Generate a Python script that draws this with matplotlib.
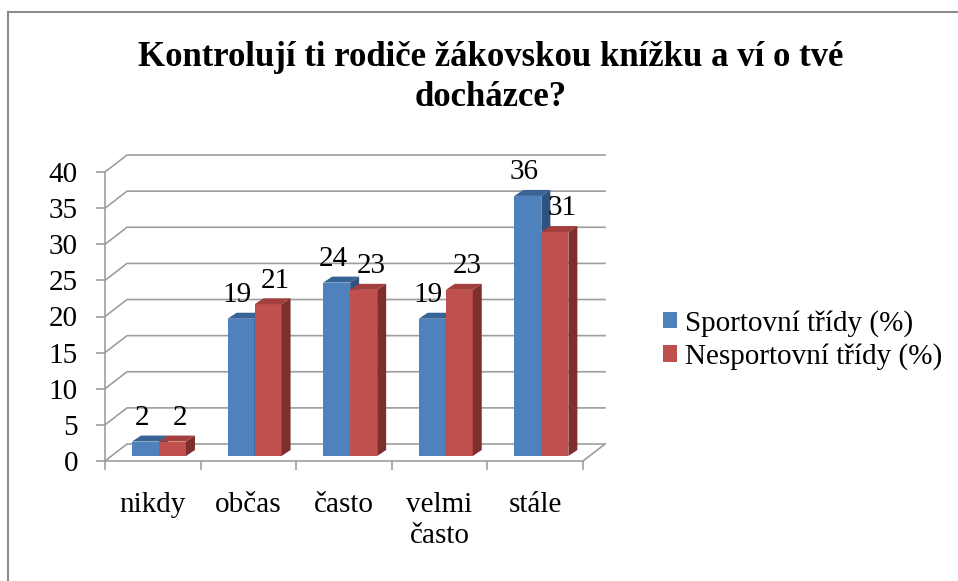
import matplotlib
matplotlib.use("Agg")
import matplotlib.pyplot as plt
from matplotlib.patches import Polygon, Patch
from matplotlib.lines import Line2D

# --- data ---
categories = ["nikdy", "občas", "často", "velmi\nčasto", "stále"]
sportovni = [2, 19, 24, 19, 36]
nesportovni = [2, 21, 23, 23, 31]
series_names = ["Sportovní třídy (%)", "Nesportovní třídy (%)"]
title = "Kontrolují ti rodiče žákovskou knížku a ví o tvé\ndocházce?"
yticks = [0, 5, 10, 15, 20, 25, 30, 35, 40]

# colours (front, top, side)
blue = ("#4F81BD", "#3A6395", "#2F5282")
red = ("#C0504D", "#A33F3C", "#7E2F2D")
grid_col = "#9E9E9E"

FONT = "Liberation Serif"
W, H = 958, 581

fig = plt.figure(figsize=(W / 100, H / 100), dpi=100)
fig.patch.set_facecolor("white")

# plot area (front face) in pixels: x 105..583, y(0)=461, y(40)=172
ax = fig.add_axes([105 / W, (H - 461) / H, 478 / W, 289 / H])
ax.set_xlim(0, 5)
ax.set_ylim(0, 40)
ax.patch.set_visible(False)

# 3D look offsets (data units)
wall_dx, wall_dy = 0.23, 2.35      # back wall
base_dy = 0.69                     # bars sit a bit into the floor
bar_w = 0.2825
depth_dx, depth_dy = 0.094, 0.83   # bar depth
group_start = 0.282
label_gap = 2.3

# walls / gridlines
for v in yticks:
    ax.plot([0, wall_dx, 5 + wall_dx], [v, v + wall_dy, v + wall_dy],
            color=grid_col, lw=1.2, zorder=1, clip_on=False)
ax.plot([5, 5 + wall_dx], [0, wall_dy], color=grid_col, lw=1.2,
        zorder=1, clip_on=False)


def bar3d(x0, h, cols):
    ax.bar(x0, h, width=bar_w, bottom=base_dy, align="edge",
           color=cols[0], zorder=3, clip_on=False)
    x1 = x0 + bar_w
    top = h + base_dy
    ax.add_patch(Polygon([(x0, top), (x1, top), (x1 + depth_dx, top + depth_dy),
                          (x0 + depth_dx, top + depth_dy)],
                         closed=True, facecolor=cols[1], edgecolor="none",
                         zorder=3, clip_on=False))
    ax.add_patch(Polygon([(x1, base_dy), (x1 + depth_dx, base_dy + depth_dy),
                          (x1 + depth_dx, top + depth_dy), (x1, top)],
                         closed=True, facecolor=cols[2], edgecolor="none",
                         zorder=3, clip_on=False))


for i, (s, n) in enumerate(zip(sportovni, nesportovni)):
    xs = i + group_start
    xn = xs + bar_w
    bar3d(xs, s, blue)
    bar3d(xn, n, red)
    ax.text(xs + bar_w / 2 - 0.04, s + base_dy + label_gap, str(s), ha="center",
            va="baseline", fontsize=21, family=FONT, zorder=5)
    ax.text(xn + bar_w / 2 + 0.08, n + base_dy + label_gap, str(n), ha="center",
            va="baseline", fontsize=21, family=FONT, zorder=5)

# axes styling
for side in ("top", "right"):
    ax.spines[side].set_visible(False)
for side in ("left", "bottom"):
    ax.spines[side].set_color(grid_col)
    ax.spines[side].set_linewidth(1.2)
    ax.spines[side].set_zorder(4)

ax.set_yticks(yticks)
ax.set_yticklabels([str(v) for v in yticks], family=FONT, fontsize=21)
ax.tick_params(axis="y", length=6.5, width=1.2, color=grid_col, pad=13)

ax.set_xticks(range(6))
ax.set_xticklabels([])
ax.set_xticks([i + 0.5 for i in range(5)], minor=True)
ax.set_xticklabels(categories, minor=True, family=FONT, fontsize=21,
                   linespacing=1.25)
ax.tick_params(axis="x", which="major", length=6.5, width=1.2, color=grid_col)
ax.tick_params(axis="x", which="minor", length=0, pad=22)

# legend
handles = [Patch(facecolor=blue[0]), Patch(facecolor=red[0])]
fig.legend(handles, series_names, loc="center left",
           bbox_to_anchor=(663 / W, 1 - 340 / H), frameon=False,
           prop={"family": FONT, "size": 21}, handlelength=0.48,
           handleheight=0.48, handletextpad=0.28, labelspacing=0.22,
           borderpad=0, borderaxespad=0)

# title
fig.text(491 / W, 1 - 41 / H, title, ha="center", va="top",
         fontsize=25, fontweight="bold", family=FONT, linespacing=1.26)

# chart frame
fig.add_artist(Line2D([8 / W, 1], [1 - 12 / H, 1 - 12 / H],
                      transform=fig.transFigure, color="#8C8C8C", lw=1.5))
fig.add_artist(Line2D([8 / W, 8 / W], [0, 1 - 12 / H],
                      transform=fig.transFigure, color="#8C8C8C", lw=1.5))

fig.savefig("out.png", dpi=100, facecolor="white")
